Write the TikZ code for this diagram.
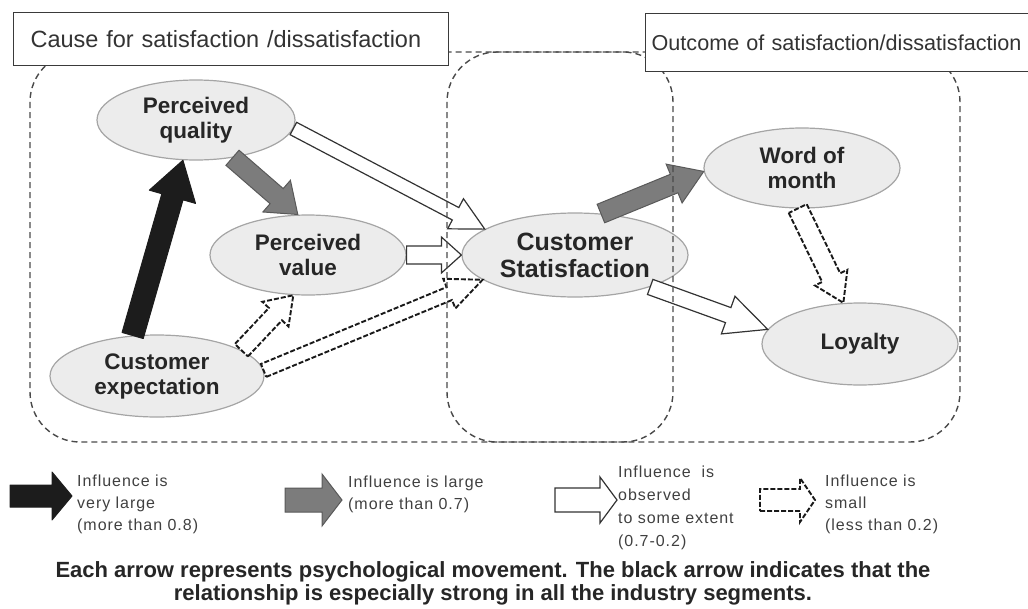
\documentclass[tikz,border=0pt]{standalone}
\usepackage{fontspec}
\setmainfont{Liberation Sans}
\newfontfamily\legfont[LetterSpace=6]{Liberation Sans}
\usetikzlibrary{calc,shapes.geometric}
\definecolor{ellfill}{HTML}{ECECEC}
\definecolor{ellline}{HTML}{A5A5A5}
\definecolor{txt}{HTML}{262626}
\definecolor{boxline}{HTML}{3A3A3A}
\definecolor{regline}{HTML}{4A4A4A}
\definecolor{grayarrow}{HTML}{7C7C7C}
\definecolor{blackarrow}{HTML}{1C1C1C}
\newcommand\blockarrow[6]{%
  \path let \p1=(#2), \p2=(#3) in \pgfextra{%
    \pgfmathsetmacro\baang{atan2(\y2-\y1,\x2-\x1)}%
    \pgfmathsetmacro\balen{veclen(\x2-\x1,\y2-\y1)}%
    \global\let\baangG\baang \global\let\balenG\balen};
  \begin{scope}[shift={(#2)},rotate=\baangG]
    \draw[#1] (0,#4) -- ({\balenG-#6},#4) -- ({\balenG-#6},#5) -- (\balenG,0)
      -- ({\balenG-#6},-#5) -- ({\balenG-#6},-#4) -- (0,-#4) -- cycle;
  \end{scope}}
\tikzset{
  ell/.style={ellipse, draw=ellline, fill=ellfill, line width=1.2pt, inner sep=0pt,
    align=center, text=txt, font=\fontsize{22.5}{25}\selectfont\bfseries},
  titlebox/.style={draw=boxline, fill=white, line width=1.3pt, inner ysep=0pt,
    anchor=north west, align=left, text=black!80},
  region/.style={draw=regline, line width=1.4pt, dash pattern=on 6pt off 4pt, rounded corners=50pt},
  blackarr/.style={fill=blackarrow, draw=blackarrow, line width=1pt, line join=round},
  grayarr/.style={fill=grayarrow, draw=black!65, line width=1pt},
  whitearr/.style={fill=white, draw=black!80, line width=1.2pt},
  dasharr/.style={fill=white, draw=black!90, line width=1.9pt, dash pattern=on 5pt off 2pt},
  legtext/.style={anchor=north west, align=left, inner sep=0pt, text=black!75,
    font=\legfont\fontsize{16}{22}\selectfont},
}
\begin{document}
\begin{tikzpicture}[x=1pt,y=-1pt]
\useasboundingbox (0,0) rectangle (1028,608);
\clip (0,0) rectangle (1028,608);
% ellipses
\node[ell, minimum width=198, minimum height=80] (pq) at (196,120) {Perceived\\quality};
\node[ell, minimum width=196, minimum height=80] (pv) at (308,255) {Perceived\\value};
\node[ell, minimum width=214, minimum height=82] (ce) at (157,376) {Customer\\expectation};
\node[ell, minimum width=226, minimum height=84, font=\fontsize{25}{27}\selectfont\bfseries] (cs) at (575,255) {Customer\\Statisfaction};
\node[ell, minimum width=196, minimum height=80] (wm) at (802,168) {Word of\\month};
\node[ell, minimum width=196, minimum height=82] (ly) at (860,344) {Loyalty};
% arrows
\blockarrow{blackarr}{ce.121}{pq.252}{11}{24}{38}
\blockarrow{grayarr}{pq.314}{pv.104}{10}{21}{28}
\blockarrow{grayarr}{cs.58}{wm.182}{10}{21}{32}
\blockarrow{whitearr}{pq.355}{cs.164.8}{7}{17}{33}
\blockarrow{whitearr}{pv.east}{cs.west}{9}{18}{20}
\blockarrow{whitearr}{cs.337}{ly.171.4}{8}{20}{42}
\blockarrow{dasharr}{ce.17}{pv.250}{9}{18}{26}
\blockarrow{dasharr}{ce.3}{cs.195}{7}{16}{36}
\blockarrow{dasharr}{wm.264}{ly.112.5}{10}{18}{28}
% regions
\draw[region] (30,52) rectangle (673,442);
\draw[region] (447,52) rectangle (960,442);
% title boxes
\node[titlebox, minimum height=53, text width=401, inner xsep=17,
  font=\fontsize{23.5}{25}\selectfont] (cause) at (13,12) {Cause for satisfaction /dissatisfaction};
\node[titlebox, minimum height=58, text width=420, inner xsep=6,
  font=\fontsize{21.6}{24}\selectfont] (outc) at (645,13) {Outcome of satisfaction/dissatisfaction};
% legend
\coordinate (l1s) at (10,496); \coordinate (l1e) at (72,496);
\coordinate (l2s) at (285,500); \coordinate (l2e) at (342,500);
\coordinate (l3s) at (555,500); \coordinate (l3e) at (617,500);
\coordinate (l4s) at (760,500); \coordinate (l4e) at (815,500);
\blockarrow{blackarr}{l1s}{l1e}{11}{24}{20}
\blockarrow{grayarr}{l2s}{l2e}{12}{26}{20}
\blockarrow{whitearr}{l3s}{l3e}{12}{23}{17}
\blockarrow{dasharr}{l4s}{l4e}{11}{22}{15}
\node[legtext] (t1) at (77,475) {Influence is\\very large\\(more than 0.8)};
\node[legtext] (t2) at (348,476) {Influence is large\\(more than 0.7)};
\node[legtext, font=\legfont\fontsize{16}{23}\selectfont] (t3) at (618,466) {Influence~ is\\observed\\to some extent\\(0.7-0.2)};
\node[legtext] (t4) at (825,475) {Influence is\\small\\(less than 0.2)};
% caption
\node[align=center, inner sep=0pt, text=black!85, font=\fontsize{22}{23}\selectfont\bfseries,
  anchor=north] (cap) at (493,561) {Each arrow represents psychological movement. The black arrow indicates that the\\relationship is especially strong in all the industry segments.};
\end{tikzpicture}
\end{document}
